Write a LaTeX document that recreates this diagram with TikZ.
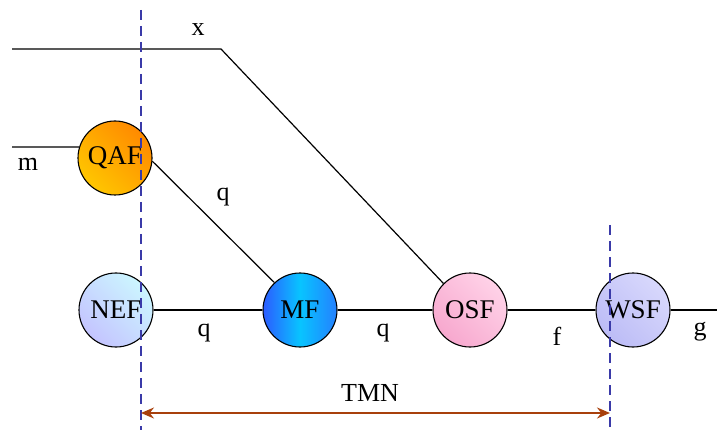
\documentclass[tikz,border=0pt]{standalone}
\usepackage{fontspec}
\setmainfont{Liberation Serif}
\usepackage{tikz}
\usetikzlibrary{arrows.meta,positioning,calc}
\definecolor{dashblue}{HTML}{3A3AA8}
\definecolor{tmnbrown}{HTML}{A8400C}
\definecolor{qafA}{HTML}{FFC600}
\definecolor{qafB}{HTML}{FF8A00}
\definecolor{nefA}{HTML}{C4C4FF}
\definecolor{nefB}{HTML}{CCF6FF}
\definecolor{mfA}{HTML}{2C5CFF}
\definecolor{mfB}{HTML}{08C4FF}
\definecolor{mfC}{HTML}{2480FF}
\definecolor{osfA}{HTML}{F7A8CE}
\definecolor{osfB}{HTML}{FFD2E8}
\definecolor{wsfA}{HTML}{BCBCF6}
\definecolor{wsfB}{HTML}{D8D8FC}
\tikzset{
  fn/.style    = {circle, draw=black, line width=1.1pt, minimum size=74pt, inner sep=0pt,
                  font=\fontsize{27}{30}\selectfont},
  wire/.style  = {line width=1.2pt, draw=black},
  bnd/.style   = {draw=dashblue, line width=1.1pt, dash pattern=on 10pt off 6pt},
  lbl/.style   = {font=\fontsize{26}{30}\selectfont, inner sep=1pt},
  span/.style  = {{Stealth[length=13pt,width=11pt]}-{Stealth[length=13pt,width=11pt]},
                  draw=tmnbrown, line width=1.4pt},
}

\begin{document}
\begin{tikzpicture}[x=1pt, y=-1pt, node distance=0pt and 110pt]
  \useasboundingbox (0,0) rectangle (717,430);
  % function blocks
  \node[fn, left color=nefA, right color=nefB, shading angle=135] (nef) at (116,310) {NEF};
  \node[fn, left color=mfA, right color=mfC, middle color=mfB] (mf) at (300,310) {MF};
  \node[fn, left color=osfA, right color=osfB, shading angle=135] (osf) at (470,310) {OSF};
  \node[fn, left color=wsfA, right color=wsfB, shading angle=135] (wsf) at (633,310) {WSF};
  \node[fn, left color=qafA, right color=qafB, shading angle=135] (qaf) at (115,158) {QAF};
  % free ends
  \coordinate (xin)  at (12,49);
  \coordinate (xbnd) at (221,49);
  \coordinate (min)  at (12,147);
  \coordinate (gout) at (717,310);
  \coordinate (ltop) at (141,10);
  \coordinate (lbot) at (141,430);
  \coordinate (rtop) at (610,225);
  \coordinate (rbot) at (610,430);
  % reference points
  \draw[wire] (xin) -- (xbnd) -- (osf.135);
  \draw[wire] (min) -- (qaf.163);
  \draw[wire] (qaf.-5) -- (mf.133);
  \draw[wire] (nef) -- (mf);
  \draw[wire] (mf) -- (osf);
  \draw[wire] (osf) -- (wsf);
  \draw[wire] (wsf) -- (gout);
  % boundary of the TMN
  \draw[bnd] (ltop) -- (lbot);
  \draw[bnd] (rtop) -- (rbot);
  \coordinate (al) at (141,413);
  \coordinate (ar) at (610,413);
  \draw[span] (al) -- (ar);
  % labels
  \node[lbl] (lx)   at (198,30)  {x};
  \node[lbl] (lm)   at (28,164)  {m};
  \node[lbl] (lq1)  at (223,197) {q};
  \node[lbl] (lq2)  at (204,333) {q};
  \node[lbl] (lq3)  at (383,333) {q};
  \node[lbl] (lf)   at (557,336) {f};
  \node[lbl] (lg)   at (700,332) {g};
  \node[lbl] (ltmn) at (370,393) {TMN};
\end{tikzpicture}
\end{document}
